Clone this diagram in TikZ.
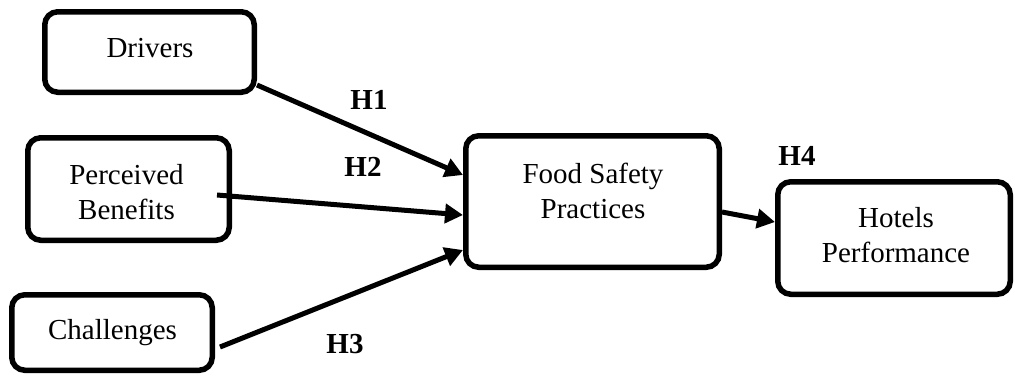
\documentclass[tikz,border=0pt]{standalone}
\usepackage{fontspec}
\setmainfont{Liberation Serif}
\usetikzlibrary{arrows.meta,calc}
\tikzset{
  box/.style={draw=black, line width=5.5pt, rounded corners=13pt, inner sep=0pt, outer sep=2.75pt, fill=white},
  txt/.style={font=\fontsize{29}{35}\selectfont, align=center, inner sep=0pt},
  hlab/.style={font=\fontsize{29}{35}\selectfont\bfseries, inner sep=0pt},
  conn/.style={line width=5pt, -{Triangle[length=18pt,width=19pt]}}
}
\begin{document}
\begin{tikzpicture}[x=1pt,y=-1pt]
\useasboundingbox (0,0) rectangle (1015,375);
% boxes
\node[box, minimum width=209.5pt, minimum height=80.5pt] (d) at (149.5,52) {};
\node[box, minimum width=201.5pt, minimum height=102.5pt] (p) at (128.5,189) {};
\node[box, minimum width=200.5pt, minimum height=75.5pt] (c) at (112,332.5) {};
\node[box, minimum width=253.5pt, minimum height=131.5pt] (f) at (592.5,201.5) {};
\node[box, minimum width=232.5pt, minimum height=112.5pt] (h) at (894,238) {};
% texts
\node[txt, anchor=base] (dt) at (150,57) {Drivers};
\node[txt] (pt) at (126.5,192) {Perceived\\Benefits};
\node[txt, anchor=base] (ct) at (112.5,339) {Challenges};
\node[txt] (ft) at (593,191) {Food Safety\\Practices};
\node[txt] (ht) at (896,235) {Hotels\\Performance};
% connectors
\draw[conn] ($(d.south east)+(0,-10)$) -- ($(f.west)+(0,-26.5)$);
\draw[conn] ($(p.east)+(-15,6)$) -- ($(f.west)+(0,13.5)$);
\draw[conn] ($(c.east)+(5,14.5)$) -- ($(f.west)+(0,48.5)$);
\draw[conn] ($(f.east)+(0,10.5)$) -- ($(h.west)+(0,-16)$);
% labels
\node[hlab] (h1) at (369,100) {H1};
\node[hlab] (h2) at (363,167) {H2};
\node[hlab] (h3) at (345,344) {H3};
\node[hlab] (h4) at (797,156) {H4};
\end{tikzpicture}
\end{document}
